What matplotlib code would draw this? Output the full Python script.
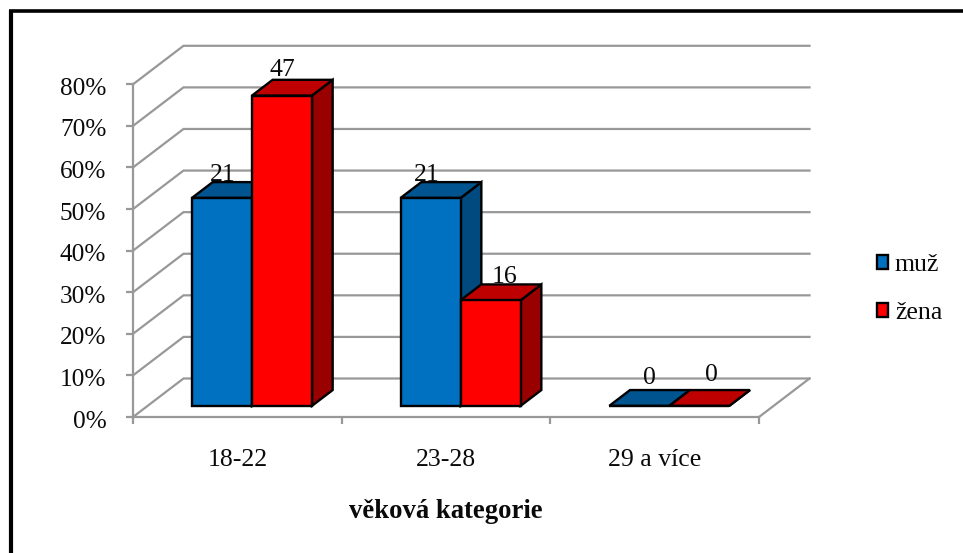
import matplotlib
matplotlib.use("Agg")
import matplotlib.pyplot as plt
from matplotlib.lines import Line2D
from matplotlib.patches import Patch, Polygon
from matplotlib.transforms import ScaledTranslation

categories = ["18-22", "23-28", "29 a více"]
muz_pct = [50, 50, 0]
zena_pct = [74.6, 25.4, 0]
muz_count = [21, 21, 0]
zena_count = [47, 16, 0]
y_ticks = [0, 10, 20, 30, 40, 50, 60, 70, 80]
x_label = "věková kategorie"

W, H = 963, 553
GRID = "#989898"
TEXT = "#0a0a0a"

plt.rcParams["font.family"] = ["Liberation Serif", "DejaVu Serif"]

fig = plt.figure(figsize=(W / 100, H / 100), dpi=100)

# predni rovina grafu, hloubka se doplni sikmo
left, right, top, bottom = 133, 759, 84.3, 417
ax = fig.add_axes([left / W, 1 - bottom / H, (right - left) / W, (bottom - top) / H])
ax.set_xlim(0, 3)
ax.set_ylim(0, 80)
ax.patch.set_visible(False)

px_x = 3 / (right - left)
px_y = 80 / (bottom - top)
depth_x = 50.5 * px_x
depth_y = 38.5 * px_y


def proj(x, y, d):
    return (x + d * depth_x, y + d * depth_y)


# steny a mrizka
for t in y_ticks:
    ax.plot(*zip(proj(0, t, 0), proj(0, t, 1), proj(3, t, 1)), color=GRID, lw=1.6,
            clip_on=False, zorder=1, solid_joinstyle="miter")
ax.plot(*zip(proj(3, 0, 0), proj(3, 0, 1)), color=GRID, lw=1.6, clip_on=False, zorder=1)

for s in ["top", "right"]:
    ax.spines[s].set_visible(False)
for s in ["left", "bottom"]:
    ax.spines[s].set_color(GRID)
    ax.spines[s].set_linewidth(1.6)

ax.set_yticks(y_ticks)
ax.set_yticklabels([f"{t}%" for t in y_ticks], color=TEXT)
ax.set_xticks([0, 1, 2, 3])
ax.set_xticklabels([])
ax.set_xticks([0.5, 1.5, 2.5], minor=True)
ax.set_xticklabels(categories, minor=True, color=TEXT)
ax.tick_params(axis="y", which="major", color=GRID, width=1.6, length=5, labelsize=18.2, pad=14.2)
ax.tick_params(axis="x", which="major", color=GRID, width=1.6, length=5)
ax.tick_params(axis="x", which="minor", length=0, labelsize=18.5, pad=23)
ax.set_xlabel(x_label, fontsize=19.2, fontweight="bold", labelpad=20.3, x=0.5, color=TEXT)

for lbl in ax.get_yticklabels():
    lbl.set_transform(lbl.get_transform() + ScaledTranslation(0, -2 / 100, fig.dpi_scale_trans))

BAR_W = 0.2875
D0, D1 = 0.29, 0.70


def bar3d(x0, val, front, topc, side):
    x1 = x0 + BAR_W
    faces = [
        ([proj(x1, 0, D0), proj(x1, 0, D1), proj(x1, val, D1), proj(x1, val, D0)], side),
        ([proj(x0, val, D0), proj(x1, val, D0), proj(x1, val, D1), proj(x0, val, D1)], topc),
        ([proj(x0, 0, D0), proj(x1, 0, D0), proj(x1, val, D0), proj(x0, val, D0)], front),
    ]
    for pts, c in faces:
        ax.add_patch(Polygon(pts, closed=True, facecolor=c, edgecolor="black", lw=1.7,
                             clip_on=False, zorder=3, joinstyle="miter"))


# posuny popisku v pixelech, rucne umistene jako v originale
muz_nudge = [(1, 0), (-4, 0), (10, 5)]
zena_nudge = [(0, 3), (14, 0), (12, 8)]

for i in range(len(categories)):
    x_m = i + 0.5 - BAR_W
    x_z = i + 0.5
    bar3d(x_m, muz_pct[i], "#0070C0", "#005490", "#004A80")
    bar3d(x_z, zena_pct[i], "#FF0000", "#BF0000", "#990000")
    for x0, val, n, nudge in [(x_m, muz_pct[i], muz_count[i], muz_nudge[i]),
                              (x_z, zena_pct[i], zena_count[i], zena_nudge[i])]:
        ax.annotate(str(n), proj(x0 + BAR_W / 2, val, D0),
                    xytext=(nudge[0] * 0.72, (17 + nudge[1]) * 0.72), textcoords="offset points",
                    ha="center", va="baseline", fontsize=18.5, color=TEXT,
                    annotation_clip=False, zorder=4)

handles = [Patch(facecolor="#0070C0", edgecolor="black", lw=1.7, label="muž"),
           Patch(facecolor="#FF0000", edgecolor="black", lw=1.7, label="žena")]
fig.legend(handles=handles, loc="center left", bbox_to_anchor=(876.5 / W, 1 - 289 / H), frameon=False,
           fontsize=18.6, labelcolor=TEXT, handlelength=0.46, handleheight=0.46, handletextpad=0.25,
           labelspacing=1.0, borderpad=0, borderaxespad=0)

# ramecek obrazku, jen vlevo a nahore
fig.add_artist(Line2D([10.5 / W, 10.5 / W], [0, 1 - 9.5 / H], color="black", lw=3,
                      transform=fig.transFigure, solid_capstyle="butt"))
fig.add_artist(Line2D([8.5 / W, 1], [1 - 11 / H, 1 - 11 / H], color="black", lw=2.6,
                      transform=fig.transFigure, solid_capstyle="butt"))

fig.savefig("out.png", dpi=100)
